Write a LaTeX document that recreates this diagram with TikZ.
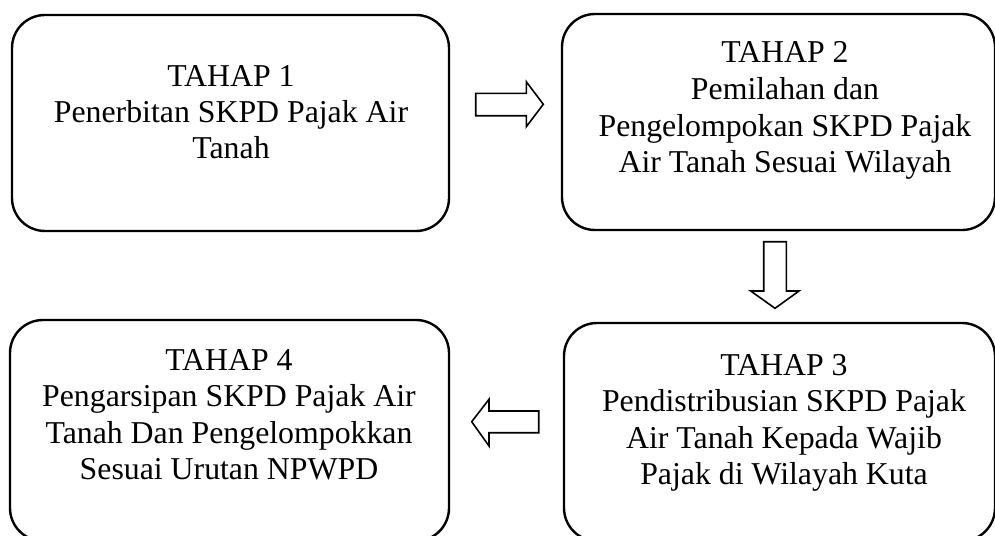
\documentclass[tikz,border=0pt]{standalone}
\usepackage{fontspec}
\setmainfont{Liberation Serif}
\begin{document}
\begin{tikzpicture}[x=1pt,y=-1pt,
  stagebox/.style={draw=black, line width=2.4pt, rounded corners=33pt,
    rectangle, inner sep=0pt, outer sep=0pt},
  txt/.style={anchor=base, inner sep=0pt, font=\fontsize{31.8}{36.5}\selectfont},
  blockarrow/.style={draw=black, fill=white, line width=1.6pt, line join=miter}]
\useasboundingbox (0,0) rectangle (995,535);
\clip (0,0) rectangle (995,535);

% boxes
\node[stagebox, minimum width=437pt, minimum height=216pt] (A) at (230.5,123) {};
\node[stagebox, minimum width=433pt, minimum height=216pt] (B) at (778.5,122) {};
\node[stagebox, minimum width=439pt, minimum height=221pt] (C) at (229.5,430.5) {};
\node[stagebox, minimum width=431pt, minimum height=218pt] (D) at (779.5,432) {};

% texts
\node[txt] (a1) at (231,86) {TAHAP 1};
\node[txt] (a2) at (231,122) {Penerbitan SKPD Pajak Air};
\node[txt] (a3) at (231,158) {Tanah};

\node[txt] (b1) at (785,63) {TAHAP 2};
\node[txt] (b2) at (785,99.5) {Pemilahan dan};
\node[txt] (b3) at (785,136) {Pengelompokan SKPD Pajak};
\node[txt] (b4) at (785,172.5) {Air Tanah Sesuai Wilayah};

\node[txt] (d1) at (784,375) {TAHAP 3};
\node[txt] (d2) at (784,411.5) {Pendistribusian SKPD Pajak};
\node[txt] (d3) at (784,448) {Air Tanah Kepada Wajib};
\node[txt] (d4) at (784,484.5) {Pajak di Wilayah Kuta};

\node[txt] (c1) at (229,370) {TAHAP 4};
\node[txt] (c2) at (229,406.5) {Pengarsipan SKPD Pajak Air};
\node[txt] (c3) at (229,443) {Tanah Dan Pengelompokkan};
\node[txt] (c4) at (229,479.5) {Sesuai Urutan NPWPD};

% block arrows
\draw[blockarrow] (475.7,93.3) -- (526.3,93.3) -- (526.3,81.7) -- (543.3,104.3)
  -- (526.3,126.7) -- (526.3,115.7) -- (475.7,115.7) -- cycle;
\draw[blockarrow] (763.7,241.7) -- (786.3,241.7) -- (786.3,291) -- (799,291)
  -- (775,308.3) -- (750.7,291) -- (763.7,291) -- cycle;
\draw[blockarrow] (538.7,411) -- (489,411) -- (489,399.3) -- (471.7,421.7)
  -- (489,446) -- (489,432.7) -- (538.7,432.7) -- cycle;
\end{tikzpicture}
\end{document}
